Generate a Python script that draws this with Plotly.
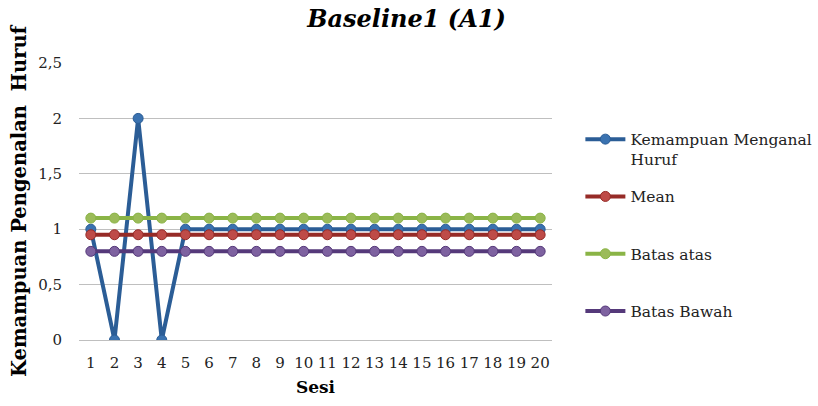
import plotly.graph_objects as go

sesi = [str(i) for i in range(1, 21)]
kemampuan = [1, 0, 2, 0, 1, 1, 1, 1, 1, 1, 1, 1, 1, 1, 1, 1, 1, 1, 1, 1]
mean = [0.95] * 20
batas_atas = [1.1] * 20
batas_bawah = [0.8] * 20

y_ticks = [0, 0.5, 1, 1.5, 2, 2.5]
y_tick_labels = ["0", "0,5", "1", "1,5", "2", "2,5"]

series = [
    ("Kemampuan Menganal<br>Huruf", kemampuan, "#2B5D96", "#3A72B0"),
    ("Mean<br> ", mean, "#962B27", "#BE4B48"),
    ("Batas atas<br> ", batas_atas, "#8AB446", "#9BBB59"),
    ("Batas Bawah<br> ", batas_bawah, "#55397A", "#7E62A0"),
]

FONT = "DejaVu Serif"

fig = go.Figure()
for i, (name, vals, lc, mc) in enumerate(series):
    fig.add_trace(go.Scatter(
        x=sesi, y=vals, name=name, mode="lines+markers",
        line=dict(color=lc, width=4),
        marker=dict(color=mc, size=10, line=dict(color=lc, width=1)),
        legendgroup=f"g{i}",
    ))

fig.update_layout(
    width=818, height=406,
    margin=dict(l=79, r=266, t=63, b=66, autoexpand=False),
    paper_bgcolor="white", plot_bgcolor="white",
    title=dict(text="<b><i>Baseline1 (A1)</i></b>", x=0.497, xanchor="center",
               y=0.955, yanchor="middle",
               font=dict(family=FONT, size=24, color="black")),
    font=dict(family=FONT, color="#222"),
    legend=dict(x=1.06, xanchor="left", y=0.785, yanchor="top",
                font=dict(family=FONT, size=15.5, color="#222"),
                tracegroupgap=14, itemwidth=40, valign="top",
                borderwidth=0, bgcolor="rgba(0,0,0,0)"),
    showlegend=True,
)
fig.update_xaxes(
    type="category", range=[-0.5, 19.5], showgrid=False, showline=False, ticks="",
    ticklabelstandoff=12,
    tickfont=dict(family=FONT, size=15, color="#222"),
    title=dict(text="<b>Sesi</b>", font=dict(family=FONT, size=17, color="black"), standoff=10),
)
fig.update_yaxes(
    range=[0, 2.5], tickvals=y_ticks, ticktext=y_tick_labels,
    showgrid=True, gridcolor="#BFBFBF", gridwidth=1, zeroline=True,
    zerolinecolor="#BFBFBF", zerolinewidth=1,
    showline=False, ticks="", ticklabelstandoff=16,
    tickfont=dict(family=FONT, size=15, color="#222"),
    title=dict(text="<b>Kemampuan Pengenalan  Huruf</b>",
               font=dict(family=FONT, size=19.5, color="black"), standoff=6),
)

fig.write_html("out.html")
